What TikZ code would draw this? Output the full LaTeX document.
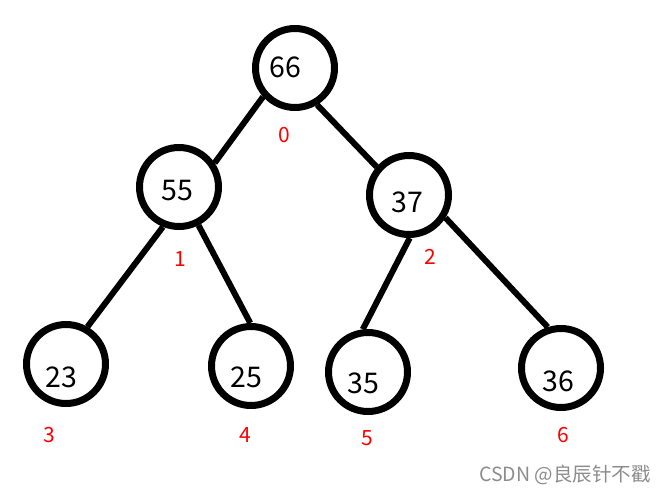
\documentclass[tikz,border=0pt]{standalone}
\usepackage{fontspec}
\setmainfont{Noto Sans CJK SC}
\tikzset{>=latex}

\begin{document}
\begin{tikzpicture}[
    x=1pt, y=-1pt,
    heapnode/.style={draw, circle, line width=7pt, minimum size=79pt, inner sep=0pt},
    every label/.style={font=\fontsize{28.5}{28.5}\selectfont, inner sep=0pt},
    idx/.style={text=red, font=\fontsize{21}{21}\selectfont, inner sep=0pt},
    link/.style={line width=6pt}
]
    \useasboundingbox (0,0) rectangle (666,495);

    % Nodes
    \node[heapnode, label={[xshift=-10pt, yshift=1pt]center:66}] (n66) at (295,68) {};
    \node[heapnode, label={[xshift=-2pt, yshift=-4pt]center:55}] (n55) at (179,187) {};
    \node[heapnode, label={[xshift=-2pt, yshift=-7pt]center:37}] (n37) at (409,195) {};
    \node[heapnode, label={[xshift=-5pt, yshift=-13pt]center:23}] (n23) at (66,364) {};
    \node[heapnode, label={[xshift=-5pt, yshift=-11pt]center:25}] (n25) at (251,366) {};
    \node[heapnode, label={[xshift=-5pt, yshift=-11pt]center:35}] (n35) at (368,372) {};
    \node[heapnode, label={[xshift=-3pt, yshift=-13pt]center:36}] (n36) at (561,368) {};

    % Indices
    \node[idx] (i0) at (284,135) {0};
    \node[idx] (i1) at (180,259) {1};
    \node[idx] (i2) at (430,257) {2};
    \node[idx] (i3) at (49,435) {3};
    \node[idx] (i4) at (245,435) {4};
    \node[idx] (i5) at (367,438) {5};
    \node[idx] (i6) at (563,435) {6};

    % Links
    \draw[link] (n66.-138) -- (n55.34);
    \draw[link] (n66.-59) -- (n37.139);
    \draw[link] (n55.-112) -- (n23.60);
    \draw[link] (n55.-63) -- (n25.91);
    \draw[link] (n37.-89) -- (n35.97);
    \draw[link] (n37.-32) -- (n36.108);

    % Watermark
    \node[text=black!45, font=\fontsize{19.5}{19.5}\selectfont, inner sep=0pt] (mark) at (565,475) {CSDN @良辰针不戳};
\end{tikzpicture}
\end{document}
